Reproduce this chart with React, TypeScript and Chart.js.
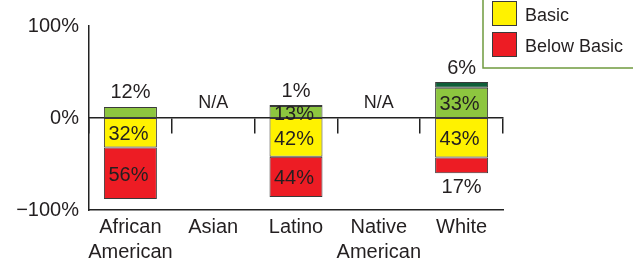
import React, { useEffect, useRef } from "react";
import { Chart, registerables } from "chart.js";

Chart.register(...registerables);

const categories: (string | string[])[] = [["African", "American"], "Asian", "Latino", ["Native", "American"], "White"];
const advanced: (number | null)[] = [null, null, 1, null, 6];
const proficient: (number | null)[] = [12, null, 13, null, 33];
const basic: (number | null)[] = [32, null, 42, null, 43];
const belowBasic: (number | null)[] = [56, null, 44, null, 17];
const naLabels: string[] = ["", "N/A", "", "N/A", ""];
const yTickValues: number[] = [-100, 0, 100];
const yTickLabels: string[] = ["\u2212100%", "0%", "100%"];
const legendLabels: string[] = ["Advanced", "Proficient", "Basic", "Below Basic"];

const COLORS = {
  advanced: "#0f5e38",
  proficient: "#8dc63f",
  basic: "#fff200",
  belowBasic: "#ed1c24",
  border: "#3a3a3a",
  text: "#231f20",
  legendBorder: "#6f9a3e",
};
const FONT = "'Liberation Sans', Arial, Helvetica, sans-serif";

const neg = (arr: (number | null)[]) => arr.map((v) => (v == null ? null : -v));

const labelPlugin = {
  id: "segLabels",
  afterDatasetsDraw(chart: any) {
    const { ctx } = chart;
    const yScale = chart.scales.y;
    const xScale = chart.scales.x;
    ctx.save();
    ctx.fillStyle = COLORS.text;
    ctx.font = `20px ${FONT}`;
    ctx.textAlign = "center";
    ctx.textBaseline = "middle";
    const n = chart.data.labels.length;
    for (let i = 0; i < n; i++) {
      let outerPos = -1;
      let outerNeg = -1;
      chart.data.datasets.forEach((ds: any, di: number) => {
        const v = ds.data[i];
        if (v == null || v === 0) return;
        if (v > 0) outerPos = di;
        else outerNeg = di;
      });
      chart.data.datasets.forEach((ds: any, di: number) => {
        const v = ds.data[i];
        if (v == null || v === 0) return;
        const el = chart.getDatasetMeta(di).data[i];
        if (!el) return;
        const { x, y, base } = el.getProps(["x", "y", "base"], true);
        const top = Math.min(y, base);
        const bottom = Math.max(y, base);
        const txt = `${Math.abs(v)}%`;
        const isOuter = di === outerPos || di === outerNeg;
        if (isOuter && Math.abs(v) < 20) {
          if (v > 0) ctx.fillText(txt, x, top - 14);
          else ctx.fillText(txt, x, bottom + 14);
        } else {
          ctx.fillText(txt, x - 2, (top + bottom) / 2 + 2);
        }
      });
      if (naLabels[i]) {
        ctx.font = `18px ${FONT}`;
        ctx.fillText(naLabels[i], xScale.getPixelForValue(i), yScale.getPixelForValue(0) - 15);
        ctx.font = `20px ${FONT}`;
      }
    }
    ctx.restore();
  },
};

const legendPlugin = {
  id: "customLegend",
  afterDraw(chart: any) {
    const { ctx } = chart;
    ctx.save();
    const left = 483;
    const bottom = 68;
    const pitch = 31;
    const items = legendLabels.length;
    const boxTop = bottom - items * pitch - 18;
    ctx.strokeStyle = COLORS.legendBorder;
    ctx.lineWidth = 1.5;
    ctx.strokeRect(left, boxTop, 200, bottom - boxTop);
    const colorFor = [COLORS.advanced, COLORS.proficient, COLORS.basic, COLORS.belowBasic];
    ctx.font = `18px ${FONT}`;
    ctx.textBaseline = "middle";
    ctx.textAlign = "left";
    legendLabels.forEach((lab, k) => {
      const sqTop = 1 + (k - 2) * pitch;
      ctx.fillStyle = colorFor[k];
      ctx.fillRect(492, sqTop, 24, 24);
      ctx.strokeStyle = COLORS.border;
      ctx.lineWidth = 1;
      ctx.strokeRect(492.5, sqTop + 0.5, 24, 24);
      ctx.fillStyle = COLORS.text;
      ctx.fillText(lab, 525, sqTop + 15);
    });
    ctx.restore();
  },
};

export default function App() {
  const ref = useRef<HTMLCanvasElement | null>(null);
  useEffect(() => {
    if (!ref.current) return;
    const barCommon = {
      borderColor: COLORS.border,
      borderWidth: 1,
      borderSkipped: false,
      barPercentage: 0.64,
      categoryPercentage: 1,
    };
    const chart = new Chart(ref.current, {
      type: "bar",
      data: {
        labels: categories as any,
        datasets: [
          { label: "Proficient", data: proficient, backgroundColor: COLORS.proficient, ...barCommon },
          { label: "Basic", data: neg(basic), backgroundColor: COLORS.basic, ...barCommon },
          { label: "Advanced", data: advanced, backgroundColor: COLORS.advanced, ...barCommon },
          { label: "Below Basic", data: neg(belowBasic), backgroundColor: COLORS.belowBasic, ...barCommon },
        ] as any,
      },
      options: {
        animation: false,
        responsive: false,
        devicePixelRatio: 1,
        layout: { padding: { left: 0, right: 130, top: 26, bottom: 0 } },
        plugins: { legend: { display: false }, tooltip: { enabled: false } },
        scales: {
          x: {
            stacked: true,
            offset: true,
            grid: { display: false, drawTicks: false },
            border: { display: true, color: "#222", width: 1.5 },
            ticks: {
              color: COLORS.text,
              font: { family: FONT, size: 20, lineHeight: 1.25 },
              padding: 5,
              maxRotation: 0,
              autoSkip: false,
            },
            afterFit(scale: any) {
              scale.height = 56;
            },
          },
          x2: {
            axis: "x",
            type: "category",
            position: { y: 0 } as any,
            offset: true,
            z: 1,
            ticks: { display: false },
            grid: {
              display: true,
              offset: true,
              drawOnChartArea: false,
              drawTicks: true,
              tickLength: 15,
              color: "#222",
              lineWidth: 1.5,
            },
            border: { display: true, color: "#222", width: 1.5 },
          },
          y: {
            stacked: true,
            min: -100,
            max: 100,
            grid: { display: false, drawTicks: false },
            border: { display: true, color: "#222", width: 1.5 },
            afterBuildTicks(scale: any) {
              scale.ticks = yTickValues.map((v) => ({ value: v }));
            },
            ticks: {
              color: COLORS.text,
              font: { family: FONT, size: 20 },
              padding: 10,
              callback: (v: any) => {
                const idx = yTickValues.indexOf(Number(v));
                return idx >= 0 ? yTickLabels[idx] : "";
              },
            },
            afterFit(scale: any) {
              scale.width = 89;
            },
          },
        } as any,
      },
      plugins: [labelPlugin, legendPlugin],
    });
    return () => chart.destroy();
  }, []);
  return (
    <div style={{ position: "fixed", left: 0, top: 0, width: 633, height: 266, background: "#fff" }}>
      <canvas ref={ref} width={633} height={266} />
    </div>
  );
}
